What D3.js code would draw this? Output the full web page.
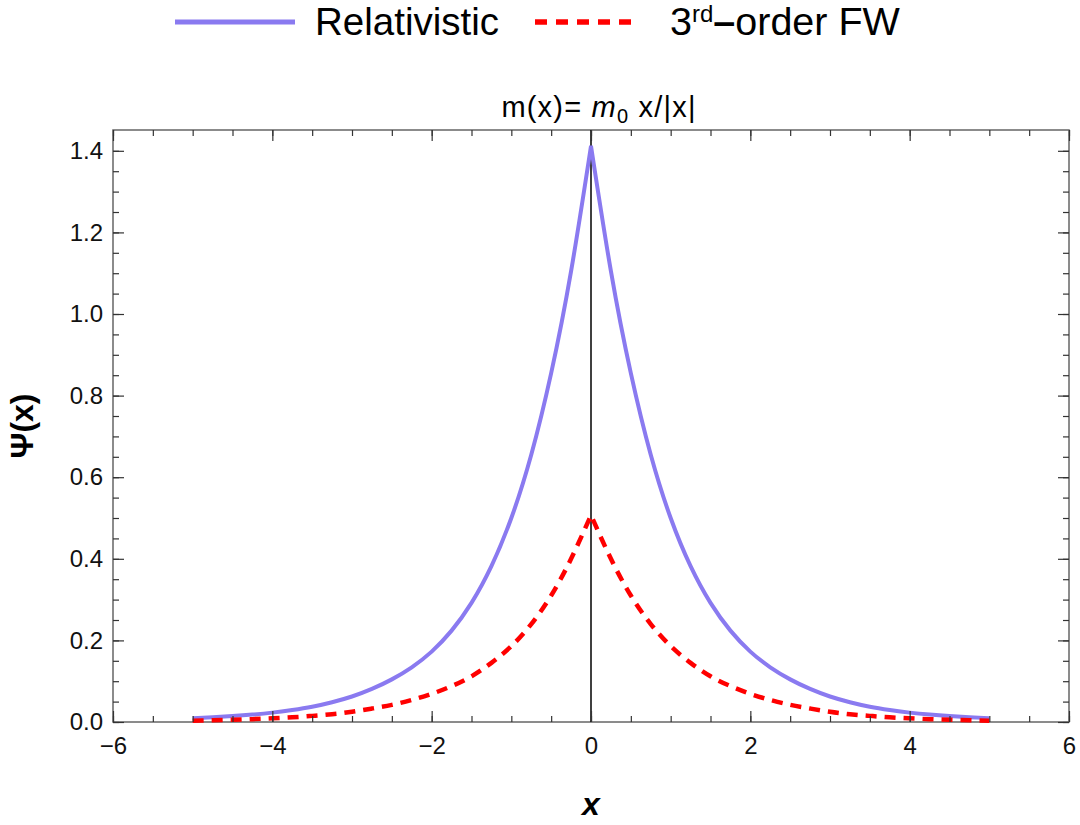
<!DOCTYPE html>
<html>
  <head>
    <meta charset="utf-8">
    <title>Psi(x)</title>
    <style>
      body { margin: 0; background: #fff; }
      text { font-family: "Liberation Sans", Arial, sans-serif; }
    </style>
  </head>
  <body>
    <script src="https://d3js.org/d3.v7.min.js"></script>
    <svg id="chart" width="1080" height="825"></svg>
    <script>
      const width = 1080
      const height = 825
      const margin = { top: 130, right: 11, bottom: 103, left: 113 }

      const xValues = d3.range(-20, 21).map(i => i / 4)
      const relativistic = [
        0.0095, 0.0118, 0.0146, 0.0182, 0.023, 0.0295, 0.0375, 0.0485, 0.0625, 0.081, 0.1045, 0.134, 0.1725, 0.224, 0.292, 0.382, 0.50, 0.655, 0.855, 1.105,
        1.412,
        1.105, 0.855, 0.655, 0.50, 0.382, 0.292, 0.224, 0.1725, 0.134, 0.1045, 0.081, 0.0625, 0.0485, 0.0375, 0.0295, 0.023, 0.0182, 0.0146, 0.0118, 0.0095
      ]
      const thirdOrderFW = [
        0.003, 0.0042, 0.0055, 0.007, 0.009, 0.0115, 0.015, 0.019, 0.025, 0.033, 0.042, 0.054, 0.069, 0.088, 0.112, 0.145, 0.186, 0.24, 0.31, 0.40,
        0.507,
        0.40, 0.31, 0.24, 0.186, 0.145, 0.112, 0.088, 0.069, 0.054, 0.042, 0.033, 0.025, 0.019, 0.015, 0.0115, 0.009, 0.007, 0.0055, 0.0042, 0.003
      ]

      const xTicks = [-6, -4, -2, 0, 2, 4, 6]
      const yTicks = [0, 0.2, 0.4, 0.6, 0.8, 1.0, 1.2, 1.4]
      const xMinor = d3.range(-6, 6.01, 0.5)
      const yMinor = d3.range(0, 1.44, 0.05)

      const series = [
        { name: 'Relativistic', values: relativistic, color: '#8a7af0', width: 4, dash: null },
        { name: '3rd-order FW', values: thirdOrderFW, color: '#ff0000', width: 4.5, dash: '11,8' }
      ]

      const svg = d3.select('#chart')

      const xScale = d3.scaleLinear([-6, 6], [margin.left, width - margin.right])
      const yScale = d3.scaleLinear([0, 1.451], [height - margin.bottom, margin.top])

      // curve with a cusp at x = 0: fit each side on its own and join them
      const line = d3.line()
        .x(d => xScale(d.x))
        .y(d => yScale(d.y))
        .curve(d3.curveNatural)

      function cuspPath(values) {
        const pts = xValues.map((x, i) => ({ x: x, y: values[i] }))
        const leftHalf = pts.filter(d => d.x <= 0)
        const rightHalf = pts.filter(d => d.x >= 0)
        return line(leftHalf) + line(rightHalf).replace('M', 'L')
      }

      // frame
      svg.append('rect')
        .attr('x', margin.left)
        .attr('y', margin.top)
        .attr('width', width - margin.left - margin.right)
        .attr('height', height - margin.top - margin.bottom)
        .style('fill', 'none')
        .style('stroke', '#666')
        .style('stroke-width', 1.5)

      // vertical axis line at x = 0
      svg.append('line')
        .attr('x1', xScale(0)).attr('x2', xScale(0))
        .attr('y1', margin.top).attr('y2', height - margin.bottom)
        .style('stroke', '#000')
        .style('stroke-width', 1.5)

      svg.selectAll('path.curve')
        .data(series)
        .join('path')
          .attr('class', 'curve')
          .attr('d', d => cuspPath(d.values))
          .style('fill', 'none')
          .style('stroke', d => d.color)
          .style('stroke-width', d => d.width)
          .style('stroke-dasharray', d => d.dash)

      // ticks (all pointing inwards, Mathematica frame style)
      function addAxis(axis, transform, cls) {
        const g = svg.append('g')
          .attr('class', cls)
          .attr('transform', transform)
          .call(axis)
        g.select('.domain').remove()
        g.selectAll('line').style('stroke', '#333').style('stroke-width', 1.2)
        g.selectAll('text')
          .style('font-family', '"Liberation Sans", Arial, sans-serif')
          .style('font-size', '24px')
          .style('fill', '#111')
        return g
      }

      const atBottom = `translate(0,${height - margin.bottom})`
      const atTop = `translate(0,${margin.top})`
      const atLeft = `translate(${margin.left},0)`
      const atRight = `translate(${width - margin.right},0)`

      addAxis(d3.axisBottom(xScale).tickValues(xMinor).tickSize(-6).tickFormat(''), atBottom, 'x-minor')
      addAxis(d3.axisTop(xScale).tickValues(xMinor).tickSize(-6).tickFormat(''), atTop, 'x-minor-top')
      addAxis(d3.axisLeft(yScale).tickValues(yMinor).tickSize(-6).tickFormat(''), atLeft, 'y-minor')
      addAxis(d3.axisRight(yScale).tickValues(yMinor).tickSize(-6).tickFormat(''), atRight, 'y-minor-right')

      addAxis(d3.axisBottom(xScale).tickValues(xTicks).tickSize(-11).tickPadding(15)
        .tickFormat(d => d < 0 ? '\u2212' + Math.abs(d) : d), atBottom, 'x-axis')
      addAxis(d3.axisTop(xScale).tickValues(xTicks).tickSize(-11).tickFormat(''), atTop, 'x-axis-top')
      addAxis(d3.axisLeft(yScale).tickValues(yTicks).tickSize(-11).tickPadding(10)
        .tickFormat(d3.format('.1f')), atLeft, 'y-axis')
      addAxis(d3.axisRight(yScale).tickValues(yTicks).tickSize(-11).tickFormat(''), atRight, 'y-axis-right')

      // axis labels
      svg.append('text')
        .attr('x', xScale(0))
        .attr('y', 815)
        .attr('text-anchor', 'middle')
        .style('font-size', '32px')
        .style('font-weight', 'bold')
        .style('font-style', 'italic')
        .text('x')

      svg.append('text')
        .attr('transform', `translate(33,${(margin.top + height - margin.bottom) / 2}) rotate(-90)`)
        .attr('text-anchor', 'middle')
        .style('font-size', '32px')
        .style('font-weight', 'bold')
        .text('\u03A8(x)')

      // title
      const title = svg.append('text')
        .attr('x', xScale(0) + 8)
        .attr('y', 117)
        .attr('text-anchor', 'middle')
        .style('font-size', '29px')
        .style('letter-spacing', '1.2px')
      title.append('tspan').text('m(x)= ')
      title.append('tspan').style('font-style', 'italic').text('m')
      title.append('tspan').attr('dy', 6).style('font-size', '20px').text('0')
      title.append('tspan').attr('dy', -6).text(' x/|x|')

      // legend
      const legend = svg.append('g').attr('class', 'legend')
      legend.append('line')
        .attr('x1', 175).attr('x2', 295).attr('y1', 22).attr('y2', 22)
        .style('stroke', series[0].color)
        .style('stroke-width', 5)
      legend.append('text')
        .attr('x', 315).attr('y', 35)
        .style('font-size', '38.5px')
        .text('Relativistic')

      legend.append('line')
        .attr('x1', 535).attr('x2', 640).attr('y1', 22).attr('y2', 22)
        .style('stroke', series[1].color)
        .style('stroke-width', 5.5)
        .style('stroke-dasharray', '12,9')
      const fwText = legend.append('text')
        .attr('x', 670).attr('y', 35)
        .style('font-size', '39.5px')
      fwText.append('tspan').text('3')
      fwText.append('tspan').attr('dy', -13).style('font-size', '24px').text('rd')
      fwText.append('tspan').attr('dy', 13).style('font-weight', 'bold').text('\u2013')
      fwText.append('tspan').text('order FW')
    </script>
  </body>
</html>
